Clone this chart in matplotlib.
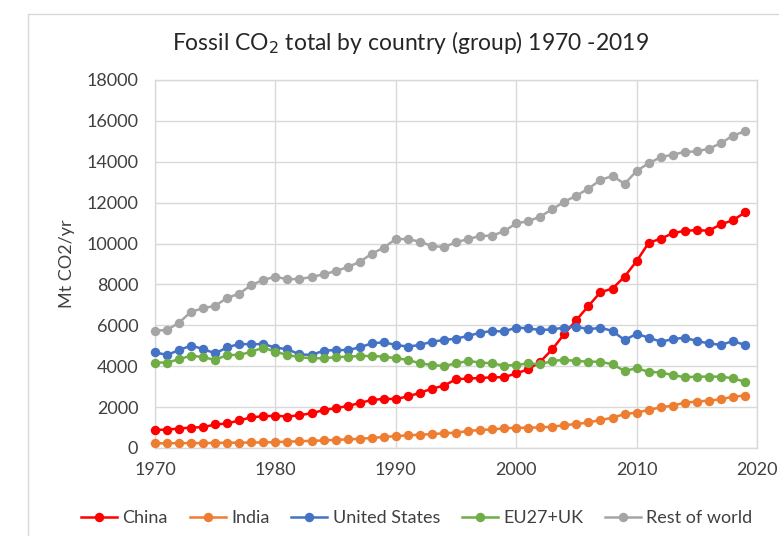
import matplotlib
matplotlib.use("Agg")
import matplotlib.pyplot as plt
from matplotlib.patches import Rectangle

years = list(range(1970, 2020))

china = [880, 900, 950, 1000, 1020, 1150, 1200, 1350, 1500, 1550,
         1580, 1540, 1600, 1700, 1850, 1950, 2050, 2200, 2350, 2400,
         2400, 2520, 2700, 2900, 3050, 3360, 3400, 3420, 3460, 3460,
         3650, 3850, 4220, 4830, 5580, 6260, 6950, 7620, 7800, 8380,
         9140, 10030, 10240, 10500, 10630, 10650, 10630, 10940, 11140, 11520]

india = [230, 230, 240, 240, 240, 250, 260, 260, 270, 270,
         290, 310, 330, 350, 370, 400, 420, 450, 490, 540,
         580, 620, 650, 680, 720, 750, 830, 880, 910, 960,
         990, 990, 1010, 1040, 1120, 1170, 1250, 1370, 1480, 1660,
         1730, 1860, 1990, 2070, 2220, 2270, 2320, 2380, 2510, 2560]

usa = [4680, 4550, 4790, 5010, 4840, 4630, 4920, 5090, 5070, 5090,
       4910, 4830, 4580, 4550, 4760, 4790, 4790, 4920, 5120, 5170,
       5040, 4960, 5040, 5200, 5280, 5350, 5480, 5640, 5720, 5700,
       5890, 5850, 5770, 5800, 5890, 5940, 5800, 5890, 5720, 5280,
       5580, 5400, 5200, 5320, 5400, 5230, 5120, 5040, 5230, 5040]

eu = [4180, 4180, 4340, 4520, 4440, 4310, 4550, 4550, 4710, 4910,
      4710, 4550, 4440, 4390, 4390, 4440, 4470, 4500, 4500, 4470,
      4390, 4310, 4140, 4060, 4010, 4140, 4260, 4180, 4140, 4030,
      4060, 4140, 4090, 4260, 4310, 4260, 4220, 4220, 4090, 3770,
      3900, 3730, 3690, 3570, 3460, 3490, 3490, 3490, 3410, 3240]

rest = [5740, 5770, 6130, 6670, 6830, 6960, 7340, 7550, 7970, 8220,
        8380, 8250, 8270, 8360, 8500, 8650, 8850, 9100, 9500, 9800,
        10220, 10220, 10090, 9880, 9830, 10060, 10220, 10370, 10390, 10600,
        10990, 11090, 11320, 11680, 12050, 12340, 12690, 13110, 13310, 12920,
        13550, 13930, 14220, 14350, 14480, 14510, 14640, 14910, 15280, 15490]

series_names = ["China", "India", "United States", "EU27+UK", "Rest of world"]
series_values = [china, india, usa, eu, rest]
colors = ["#FF0000", "#ED7D31", "#4472C4", "#70AD47", "#A5A5A5"]

x_ticks = [1970, 1980, 1990, 2000, 2010, 2020]
y_ticks = list(range(0, 18001, 2000))

plt.rcParams['font.family'] = ['Lato', 'DejaVu Sans']

fig = plt.figure(figsize=(7.79, 5.36), dpi=100)
fig.patch.set_facecolor("white")
# chart-area border
fig.patches.append(Rectangle((28 / 779, -0.1), 1.0, 1 - 14 / 536 + 0.1,
                             transform=fig.transFigure, fill=False,
                             edgecolor="#D9D9D9", linewidth=1.0))

ax = fig.add_axes([155 / 779, 1 - 448 / 536, (757 - 155) / 779, (448 - 80) / 536])

handles = []
for i in range(5):
    ln, = ax.plot(years, series_values[i], color=colors[i], linewidth=1.8,
                  marker="o", markersize=6.8, markeredgewidth=0,
                  label=series_names[i], clip_on=False, zorder=3)
    handles.append(ln)

ax.set_xlim(1970, 2020)
ax.set_ylim(0, 18000)
ax.set_xticks(x_ticks)
ax.set_yticks(y_ticks)
ax.grid(True, color="#D9D9D9", linewidth=1.0)
ax.set_axisbelow(True)
for s in ax.spines.values():
    s.set_color("#D9D9D9")
    s.set_linewidth(1.0)
ax.tick_params(axis="y", length=0, labelsize=13, labelcolor="#404040", pad=12)
ax.tick_params(axis="x", length=0, labelsize=13, labelcolor="#404040", pad=10)

ax.set_ylabel("Mt CO2/yr", fontsize=13, color="#404040", labelpad=8)

fig.text(0.527, 1 - 42 / 536, r"Fossil CO$_2$ total by country (group) 1970 -2019",
         ha="center", va="center", fontsize=16.5, color="#262626")

fig.legend(handles, series_names, loc="center",
           bbox_to_anchor=(0.535, 1 - 518 / 536), ncol=5, frameon=False,
           fontsize=13, handlelength=2.0, handletextpad=0.3, columnspacing=1.2,
           labelcolor="#404040")

fig.savefig("out.png", dpi=100, facecolor="white")
